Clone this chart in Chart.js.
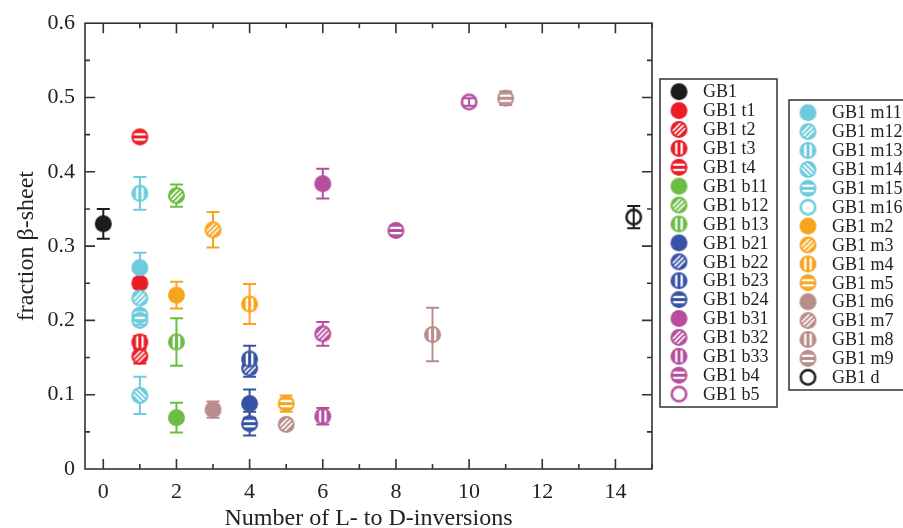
<!DOCTYPE html>
<html>
<head>
<meta charset="utf-8">
<script src="https://cdn.jsdelivr.net/npm/chart.js@4.4.0/dist/chart.umd.min.js"></script>
<style>
html, body { margin: 0; padding: 0; background: #fff; }
canvas { display: block; }
</style>
</head>
<body>
<canvas id="chart" width="903" height="528"></canvas>
<script>
// Data -----------------------------------------------------------------------------------

var seriesLabels = [
    'GB1', 'GB1 t1', 'GB1 t2', 'GB1 t3', 'GB1 t4',
    'GB1 b11', 'GB1 b12', 'GB1 b13',
    'GB1 b21', 'GB1 b22', 'GB1 b23', 'GB1 b24',
    'GB1 b31', 'GB1 b32', 'GB1 b33', 'GB1 b4', 'GB1 b5',
    'GB1 m11', 'GB1 m12', 'GB1 m13', 'GB1 m14', 'GB1 m15', 'GB1 m16',
    'GB1 m2', 'GB1 m3', 'GB1 m4', 'GB1 m5',
    'GB1 m6', 'GB1 m7', 'GB1 m8', 'GB1 m9', 'GB1 d'
];

var xValues = [
    0, 1, 1, 1, 1,
    2, 2, 2,
    4, 4, 4, 4,
    6, 6, 6, 8, 10,
    1, 1, 1, 1, 1, 1,
    2, 3, 4, 5,
    3, 5, 9, 11, 14.5
];

var yValues = [
    0.330, 0.250, 0.152, 0.171, 0.447,
    0.069, 0.368, 0.171,
    0.088, 0.136, 0.148, 0.061,
    0.384, 0.182, 0.071, 0.321, 0.494,
    0.271, 0.230, 0.371, 0.099, 0.207, 0.200,
    0.234, 0.322, 0.222, 0.088,
    0.080, 0.060, 0.181, 0.499, 0.339
];

var yErrors = [
    0.020, 0.006, 0.010, 0.008, 0.005,
    0.020, 0.015, 0.032,
    0.019, 0.012, 0.018, 0.016,
    0.020, 0.016, 0.011, 0.004, 0.005,
    0.020, 0.006, 0.022, 0.025, 0.006, 0.006,
    0.018, 0.024, 0.027, 0.011,
    0.011, 0.004, 0.036, 0.009, 0.015
];

var xTickValues = [0, 2, 4, 6, 8, 10, 12, 14];
var yTickValues = [0, 0.1, 0.2, 0.3, 0.4, 0.5, 0.6];
var yTickLabels = ['0', '0.1', '0.2', '0.3', '0.4', '0.5', '0.6'];

// Styles ---------------------------------------------------------------------------------

var BLACK  = '#1c1c1c';
var RED    = '#ec1c24';
var GREEN  = '#6cbd45';
var BLUE   = '#3953a4';
var PURPLE = '#b54e9e';
var CYAN   = '#6dcbdb';
var ORANGE = '#f7a51f';
var MAUVE  = '#b98d8b';

var seriesColors = [
    BLACK, RED, RED, RED, RED,
    GREEN, GREEN, GREEN,
    BLUE, BLUE, BLUE, BLUE,
    PURPLE, PURPLE, PURPLE, PURPLE, PURPLE,
    CYAN, CYAN, CYAN, CYAN, CYAN, CYAN,
    ORANGE, ORANGE, ORANGE, ORANGE,
    MAUVE, MAUVE, MAUVE, MAUVE, BLACK
];

var seriesPatterns = [
    'solid', 'solid', 'diag', 'vert', 'horiz',
    'solid', 'diag', 'vert',
    'solid', 'diag', 'vert', 'horiz',
    'solid', 'diag', 'vert', 'horiz', 'open',
    'solid', 'diag', 'vert', 'back', 'horiz', 'open',
    'solid', 'diag', 'vert', 'horiz',
    'solid', 'diag', 'vert', 'horiz', 'open'
];

var FONT = '"Liberation Serif", "Times New Roman", serif';
var TEXT_COLOR = '#222';
var AXIS_COLOR = '#333';
var MARKER_RADIUS = 8.5;
var CAP_HALF = 6.5;

var LEGEND_BOXES = [
    { x: 660, y: 79,  w: 117, h: 328, first: 0,  count: 17 },
    { x: 789, y: 100, w: 140, h: 290, first: 17, count: 15 }
];
var LEGEND_ROW = 18.9;

// Functions ------------------------------------------------------------------------------

function makeMarker(color, pattern, r) {
    var size = Math.ceil(2 * r + 4);
    var c = document.createElement('canvas');
    c.width = size;
    c.height = size;
    var g = c.getContext('2d');
    var m = size / 2;

    if (pattern === 'open') {
        g.strokeStyle = color;
        g.lineWidth = 2.5;
        g.beginPath();
        g.arc(m, m, r - 1.25, 0, Math.PI * 2);
        g.stroke();
        return c;
    }

    g.fillStyle = color;
    g.beginPath();
    g.arc(m, m, r, 0, Math.PI * 2);
    g.fill();

    if (pattern === 'solid') {
        return c;
    }

    g.save();
    g.beginPath();
    g.arc(m, m, r - 2, 0, Math.PI * 2);
    g.clip();
    g.translate(m, m);
    if (pattern === 'horiz') g.rotate(Math.PI / 2);
    if (pattern === 'diag') g.rotate(Math.PI / 4);
    if (pattern === 'back') g.rotate(-Math.PI / 4);
    g.strokeStyle = '#fff';

    var straight = (pattern === 'vert' || pattern === 'horiz');
    var offsets = straight ? [-2.7, 2.7] : [-3.5, 0, 3.5];
    g.lineWidth = straight ? 2.3 : 1.6;
    offsets.forEach(function (o) {
        g.beginPath();
        g.moveTo(o, -r);
        g.lineTo(o, r);
        g.stroke();
    });
    g.restore();
    return c;
}

var markers = seriesLabels.map(function (label, i) {
    return makeMarker(seriesColors[i], seriesPatterns[i], MARKER_RADIUS);
});

var datasets = seriesLabels.map(function (label, i) {
    return {
        label: label,
        data: [{ x: xValues[i], y: yValues[i] }],
        pointStyle: markers[i],
        pointRadius: MARKER_RADIUS,
        order: -i
    };
});

// draws the box, inward ticks and error bars
var framePlugin = {
    id: 'frame',
    beforeDatasetsDraw: function (chart) {
        var ctx = chart.ctx;
        var ca = chart.chartArea;
        var xs = chart.scales.x;
        var ys = chart.scales.y;

        ctx.save();
        ctx.strokeStyle = AXIS_COLOR;
        ctx.lineWidth = 1.6;
        ctx.strokeRect(ca.left, ca.top, ca.right - ca.left, ca.bottom - ca.top);

        ctx.beginPath();
        for (var v = 0; v <= 15; v++) {
            var px = xs.getPixelForValue(v);
            var len = (v % 2 === 0) ? 10 : 5;
            ctx.moveTo(px, ca.bottom);
            ctx.lineTo(px, ca.bottom - len);
            ctx.moveTo(px, ca.top);
            ctx.lineTo(px, ca.top + len);
        }
        for (var k = 1; k < 12; k++) {
            var py = ys.getPixelForValue(k * 0.05);
            var ylen = (k % 2 === 0) ? 10 : 5;
            ctx.moveTo(ca.left, py);
            ctx.lineTo(ca.left + ylen, py);
            ctx.moveTo(ca.right, py);
            ctx.lineTo(ca.right - ylen, py);
        }
        ctx.stroke();

        ctx.lineWidth = 2;
        seriesLabels.forEach(function (label, i) {
            var x = xs.getPixelForValue(xValues[i]);
            var top = ys.getPixelForValue(yValues[i] + yErrors[i]);
            var bottom = ys.getPixelForValue(yValues[i] - yErrors[i]);
            ctx.strokeStyle = seriesColors[i];
            ctx.beginPath();
            ctx.moveTo(x, top);
            ctx.lineTo(x, bottom);
            ctx.moveTo(x - CAP_HALF, top);
            ctx.lineTo(x + CAP_HALF, top);
            ctx.moveTo(x - CAP_HALF, bottom);
            ctx.lineTo(x + CAP_HALF, bottom);
            ctx.stroke();
        });
        ctx.restore();
    },
    afterDraw: function (chart) {
        var ctx = chart.ctx;
        ctx.save();
        ctx.strokeStyle = AXIS_COLOR;
        ctx.lineWidth = 1.5;
        ctx.font = '18px ' + FONT;
        ctx.fillStyle = TEXT_COLOR;
        ctx.textBaseline = 'middle';
        ctx.textAlign = 'left';

        LEGEND_BOXES.forEach(function (box) {
            ctx.strokeRect(box.x, box.y, box.w, box.h);
            for (var j = 0; j < box.count; j++) {
                var i = box.first + j;
                var cy = box.y + 12.7 + j * LEGEND_ROW;
                var mk = markers[i];
                ctx.drawImage(mk, box.x + 19 - mk.width / 2, cy - mk.height / 2);
                ctx.fillText(seriesLabels[i], box.x + 43, cy + 1);
            }
        });
        ctx.restore();
    }
};

var chart = new Chart(document.getElementById('chart').getContext('2d'), {
    type: 'scatter',
    data: { datasets: datasets },
    options: {
        responsive: false,
        animation: false,
        events: [],
        layout: { padding: { top: 20, right: 251, left: 0, bottom: 0 } },
        plugins: {
            legend: { display: false },
            tooltip: { enabled: false }
        },
        scales: {
            x: {
                type: 'linear',
                min: -0.5,
                max: 15,
                grid: { display: false, drawTicks: false },
                border: { display: false },
                afterBuildTicks: function (scale) {
                    scale.ticks = xTickValues.map(function (v) { return { value: v }; });
                },
                afterFit: function (scale) { scale.height = 59; },
                ticks: {
                    padding: 10,
                    color: TEXT_COLOR,
                    font: { family: FONT, size: 22 },
                    maxRotation: 0,
                    callback: function (value) { return String(value); }
                },
                title: {
                    display: true,
                    text: 'Number of L- to D-inversions',
                    color: TEXT_COLOR,
                    font: { family: FONT, size: 24, lineHeight: 0.8 },
                    padding: { top: 0, bottom: 0 }
                }
            },
            y: {
                min: 0,
                max: 0.6,
                grid: { display: false, drawTicks: false },
                border: { display: false },
                afterBuildTicks: function (scale) {
                    scale.ticks = yTickValues.map(function (v) { return { value: v }; });
                },
                afterFit: function (scale) { scale.width = 85; },
                ticks: {
                    padding: 10,
                    color: TEXT_COLOR,
                    font: { family: FONT, size: 22 },
                    callback: function (value, index) { return yTickLabels[index]; }
                },
                title: {
                    display: true,
                    text: 'fraction β-sheet',
                    color: TEXT_COLOR,
                    font: { family: FONT, size: 24, lineHeight: 1 },
                    padding: { top: 15, bottom: 0 }
                }
            }
        }
    },
    plugins: [framePlugin]
});
</script>
</body>
</html>
